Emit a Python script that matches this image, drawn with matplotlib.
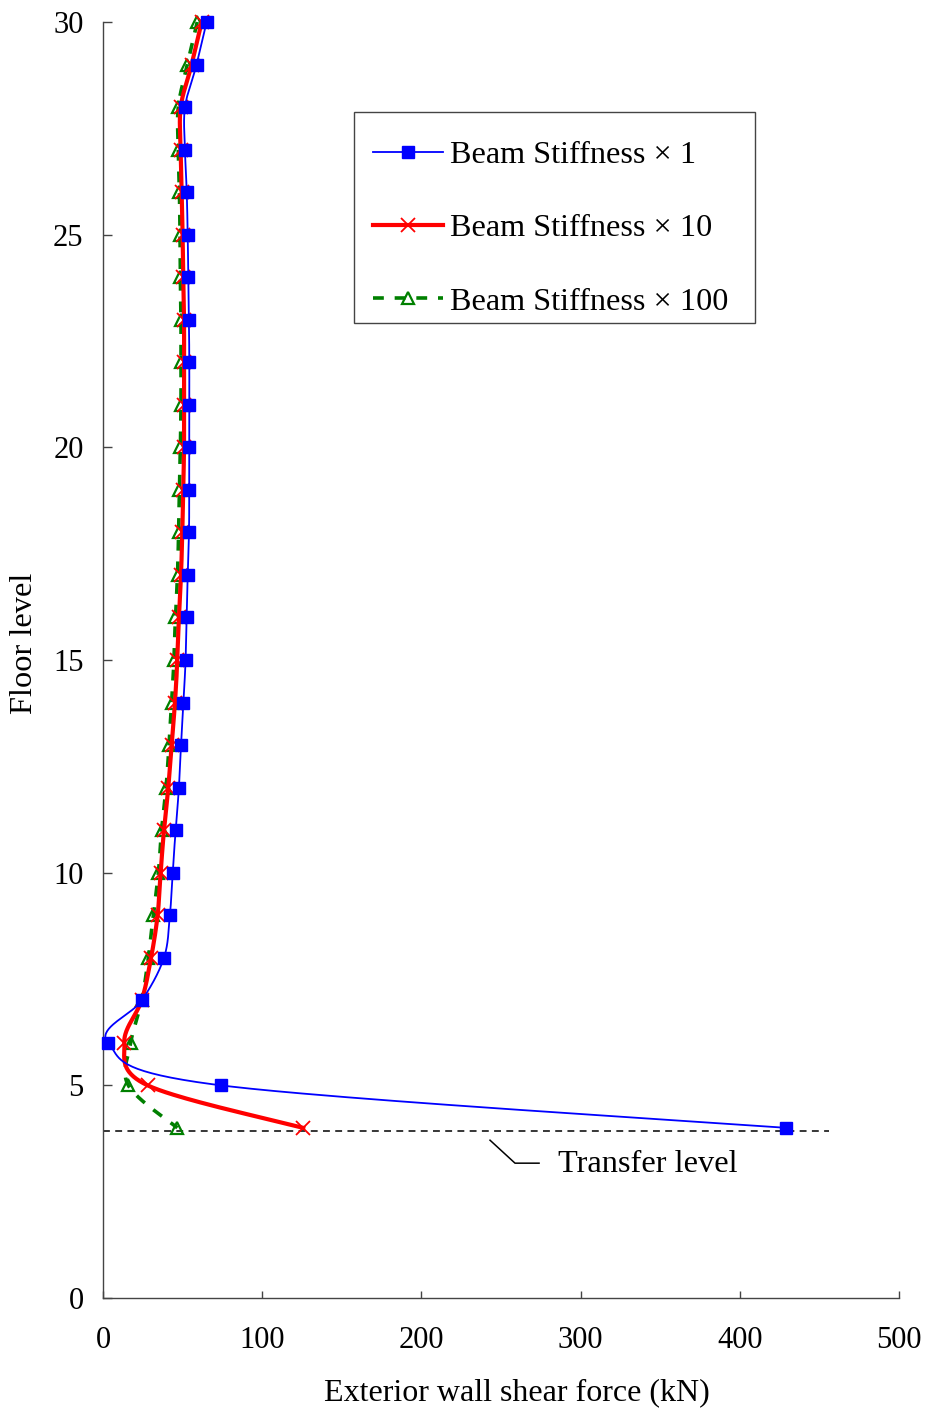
import numpy as np
import matplotlib
matplotlib.use("Agg")
import matplotlib.pyplot as plt
from matplotlib.lines import Line2D
from matplotlib.patches import Rectangle

plt.rcParams['font.family'] = ['Liberation Serif', 'DejaVu Serif']

# Floor levels (top down) and exterior wall shear force (kN)
floors = [30, 29, 28, 27, 26, 25, 24, 23, 22, 21, 20, 19, 18, 17, 16,
          15, 14, 13, 12, 11, 10, 9, 8, 7, 6, 5, 4]
shear_x1 = [65.1, 58.8, 51.5, 51.5, 52.6, 53.2, 53.6, 54.0, 54.2, 54.2, 54.2,
            54.2, 54.0, 53.2, 52.6, 51.9, 50.5, 49.0, 47.7, 45.6, 43.8, 42.0,
            38.3, 24.5, 3.2, 74.0, 429.0]
shear_x10 = [62.0, 55.7, 48.8, 48.8, 49.4, 50.0, 50.4, 50.9, 50.9, 50.9, 50.9,
             50.4, 49.8, 49.0, 47.7, 46.7, 45.2, 43.1, 41.0, 38.3, 36.2, 34.3,
             30.2, 24.3, 13.4, 28.0, 125.8]
shear_x100 = [59.2, 53.0, 47.3, 47.3, 48.0, 48.4, 48.6, 49.0, 49.0, 49.0, 48.6,
              48.0, 47.5, 46.8, 45.5, 44.6, 43.1, 41.5, 39.6, 36.8, 34.8, 31.6,
              28.5, 24.3, 17.4, 15.9, 46.7]
labels = ['Beam Stiffness \u00d7 1', 'Beam Stiffness \u00d7 10', 'Beam Stiffness \u00d7 100']
transfer_floor = 3.93
transfer_end = 456

W, H = 926, 1412
ax_l, ax_b, ax_w, ax_h = 103, 1298, 796, 1276
xmax, ymax = 500, 30

fig = plt.figure(figsize=(W / 100, H / 100), dpi=100)
ax = fig.add_axes([ax_l / W, 1 - ax_b / H, ax_w / W, ax_h / H])

sx = ax_w / xmax
sy = ax_h / ymax


# Excel-like smoothed line (Catmull-Rom Bezier in screen space)
def smooth(xs, ys, n=40):
    P = np.column_stack([np.asarray(xs) * sx, np.asarray(ys) * sy])
    ext = np.vstack([P[0], P, P[-1]])
    t = np.linspace(0, 1, n)[:, None]
    out = []
    for i in range(len(P) - 1):
        p0, p1, p2, p3 = ext[i], ext[i + 1], ext[i + 2], ext[i + 3]
        c1 = p1 + (p2 - p0) / 6
        c2 = p2 - (p3 - p1) / 6
        seg = ((1 - t) ** 3) * p1 + 3 * ((1 - t) ** 2) * t * c1 + 3 * (1 - t) * t ** 2 * c2 + t ** 3 * p2
        out.append(seg if i == 0 else seg[1:])
    out = np.vstack(out)
    return out[:, 0] / sx, out[:, 1] / sy


green_style = dict(color='#008000', lw=2.6, ls=(0, (3, 3)))
red_style = dict(color='#ff0000', lw=3.0, ls='-')
blue_style = dict(color='#0000ff', lw=1.3, ls='-')

gx, gy = smooth(shear_x100, floors)
ax.plot(gx, gy, **green_style, zorder=2, clip_on=False)
ax.plot(shear_x100, floors, ls='none', marker='^', ms=9, mfc='none', mec='#008000',
        mew=1.6, zorder=3, clip_on=False)

rx, ry = smooth(shear_x10, floors)
ax.plot(rx, ry, **red_style, zorder=4, clip_on=False)
ax.plot(shear_x10, floors, ls='none', marker='x', ms=10, mec='#ff0000', mew=1.3,
        zorder=5, clip_on=False)

bx, by = smooth(shear_x1, floors)
ax.plot(bx, by, **blue_style, zorder=6, clip_on=False)
ax.plot(shear_x1, floors, ls='none', marker='s', ms=8.5, mfc='#0000ff', mec='#0000ff',
        zorder=7, clip_on=False)

# Transfer level
ax.plot([0, transfer_end], [transfer_floor, transfer_floor], color='black', lw=1.1,
        ls=(0, (4.5, 3.5)), zorder=1, clip_on=False)
ax.plot([243.1, 258.8, 273.9], [3.71, 3.17, 3.17], color='black', lw=1.1)
ax.text(285.8, 3.13, 'Transfer level', fontsize=23.3, va='center', ha='left')

ax.set_xlim(0, xmax)
ax.set_ylim(0, ymax)
ax.set_xticks(range(0, 501, 100))
ax.set_yticks(range(0, 31, 5))
for s in ['top', 'right']:
    ax.spines[s].set_visible(False)
for s in ['left', 'bottom']:
    ax.spines[s].set_color('#444444')
    ax.spines[s].set_linewidth(1.0)
ax.tick_params(axis='y', direction='in', length=6.5, width=1, color='#444444',
               labelsize=22, pad=14)
ax.tick_params(axis='x', direction='in', length=5, width=1, color='#444444',
               labelsize=22, pad=20)
ax.set_xlabel('Exterior wall shear force (kN)', fontsize=23)
ax.set_ylabel('Floor level', fontsize=23.3)
ax.xaxis.set_label_coords((517 - ax_l) / ax_w, -(1393 - ax_b) / ax_h)
ax.yaxis.set_label_coords(-(ax_l - 25) / ax_w, (ax_b - 643) / ax_h)
ax.xaxis.label.set_va('center')
ax.yaxis.label.set_va('center')

# legend box drawn separately so the rows sit where the reference has them
ax.add_patch(Rectangle((354 / W, 1 - 323 / H), 401 / W, 211 / H,
                       transform=fig.transFigure, fill=True, facecolor='white',
                       edgecolor='#444444', lw=1.0, zorder=8, clip_on=False))
handles = [
    Line2D([], [], **blue_style, marker='s', ms=8.5, mfc='#0000ff', mec='#0000ff'),
    Line2D([], [], **red_style, marker='x', ms=10, mec='#ff0000', mew=1.3),
    Line2D([], [], **green_style, marker='^', ms=9, mfc='none', mec='#008000', mew=1.6),
]
leg = ax.legend(handles, labels, loc='upper left', mode='expand',
                bbox_to_anchor=(354 / W, 1 - 332 / H, 401 / W, 211 / H),
                bbox_transform=fig.transFigure, borderaxespad=0, fontsize=23.2,
                handlelength=2.15, handletextpad=0.22, labelspacing=1.36,
                borderpad=0.6, frameon=False)
leg.set_zorder(9)

fig.savefig('out.png', dpi=100)
